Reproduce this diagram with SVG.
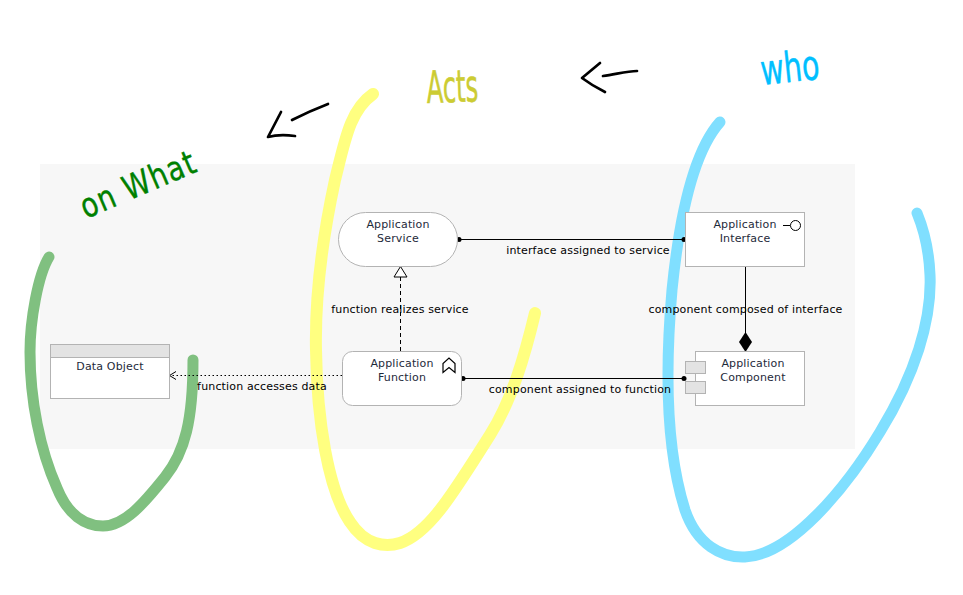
<svg xmlns="http://www.w3.org/2000/svg" width="963" height="595" viewBox="0 0 963 595">
<style>
.t{font-family:"DejaVu Sans",sans-serif;font-size:11px;letter-spacing:.16px;text-anchor:middle;fill:#000}
.n{fill:#1e2a3a}
.b{fill:#fff;stroke:#b3b3b3;stroke-width:1}
.g{fill:#e3e3e3;stroke:#b3b3b3;stroke-width:1}
.c{fill:none;stroke:#000;stroke-width:1}
.s{fill:none;stroke-linecap:round;stroke-linejoin:round}
.k{fill:none;stroke:#000;stroke-width:2.7;stroke-linecap:round;stroke-linejoin:round}
.h{font-family:"DejaVu Sans",sans-serif;font-weight:400;stroke-width:.3;stroke-linejoin:round}
</style>
<defs>
<marker id="dot" markerWidth="6" markerHeight="6" refX="3" refY="3" markerUnits="userSpaceOnUse"><circle cx="3" cy="3" r="2.500" fill="#000"/></marker>
</defs>
<rect id="panel" x="40" y="164" width="815" height="285" fill="#f7f7f7"/>
<g id="strokes">
<path class="s" stroke="#80dfff" stroke-width="11" d="M720 122C695 150 680 210 672 290C665 370 666 450 685 510C697 545 722 558 745 557C790 555 845 490 880 432C915 375 932 320 930 275C929 250 924 230 917 213"/>
<path class="s" stroke="#ffff80" stroke-width="12" d="M373 94C350 110 345 140 335 180C322 240 315 300 316 350C317 420 328 490 350 522C365 545 385 548 400 543C430 533 455 490 490 435C512 400 525 355 535 313"/>
<path class="s" stroke="#80c080" stroke-width="11" d="M49 257C38 275 30 320 30 352C30 400 40 450 57 488C68 515 85 526 103 526C125 526 145 502 165 477C185 452 193 420 193 360"/>
<path class="k" d="M328 104C315 109 302 115 292 120M281 112L268 137C279 134 287 135 295 136"/>
<path class="k" d="M637 71C627 71 617 74 603 76M600 63L582 78C590 84 597 88 605 92"/>
</g>
<g id="handwriting">
<text class="h" transform="translate(86 219) rotate(-23) scale(1.05 1.3)" font-size="26" fill="#008000" stroke="#008000" letter-spacing="1.2">on What</text>
<text class="h" transform="translate(427 103) rotate(-2) scale(.9 1.65)" font-size="27" fill="#cccc33" stroke="#cccc33">Acts</text>
<text class="h" transform="translate(762 85) rotate(-6) scale(1.1 1.6)" font-size="26" fill="#00bfff" stroke="#00bfff">who</text>
</g>
<g id="connectors">
<path class="c" d="M459 239.500H684" marker-start="url(#dot)" marker-end="url(#dot)"/>
<path class="c" d="M463 378.500H684" marker-start="url(#dot)" marker-end="url(#dot)"/>
<path class="c" d="M745.500 266V333"/>
<path d="M745.500 332L752 342L745.500 352L739 342Z" fill="#000"/>
<path class="c" d="M400.500 351V277" stroke-dasharray="4 3"/>
<path d="M400.500 266.500L407 277H394Z" fill="#fff" stroke="#000"/>
<path class="c" d="M342 375.500H170" stroke-dasharray="1.500 2.500"/>
<path class="c" d="M176 371.500L169.500 375.500L176 379.500"/>
<text class="t" x="588" y="254">interface assigned to service</text>
<text class="t" x="400" y="313">function realizes service</text>
<text class="t" x="745.500" y="313">component composed of interface</text>
<text class="t" x="262" y="390">function accesses data</text>
<text class="t" x="580" y="393">component assigned to function</text>
</g>
<g id="app-service">
<rect class="b" x="338.500" y="212.500" width="119" height="54" rx="27" ry="27"/>
<text class="t n" x="398" y="228">Application</text><text class="t n" x="398" y="242">Service</text>
</g>
<g id="app-interface">
<rect class="b" x="685.500" y="212.500" width="119" height="54"/>
<text class="t n" x="745" y="228">Application</text><text class="t n" x="745" y="242">Interface</text>
<path class="c" d="M783 225.500H790"/><circle cx="795.500" cy="225.500" r="5" fill="#fff" stroke="#000"/>
</g>
<g id="app-function">
<rect class="b" x="342.500" y="351.500" width="119" height="54" rx="10" ry="10"/>
<text class="t n" x="402" y="367">Application</text><text class="t n" x="402" y="381">Function</text>
<path d="M443 363.500V372.500L449 367.500L455 372.500V363.500L449 358Z" fill="#fff" stroke="#000" stroke-width="1.200"/>
</g>
<g id="app-component">
<rect class="b" x="695.500" y="351.500" width="109" height="54"/>
<rect class="g" x="685.500" y="361.500" width="20" height="12"/>
<rect class="g" x="685.500" y="381.500" width="20" height="12"/>
<text class="t n" x="753" y="367">Application</text><text class="t n" x="753" y="381">Component</text>
</g>
<g id="data-object">
<rect class="b" x="50.500" y="344.500" width="119" height="54"/>
<rect class="g" x="50.500" y="344.500" width="119" height="13"/>
<text class="t n" x="110" y="370">Data Object</text>
</g>
</svg>
